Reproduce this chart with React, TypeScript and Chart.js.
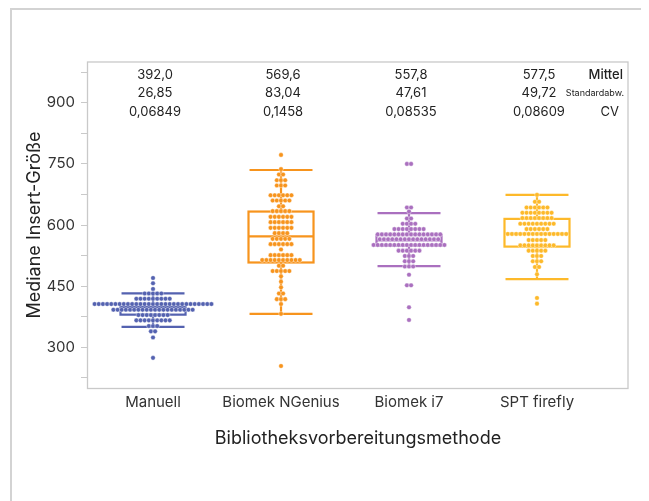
import React, { useEffect, useRef } from "react";
import { Chart, registerables } from "chart.js";
Chart.register(...registerables);

const categories = ["Manuell", "Biomek NGenius", "Biomek i7", "SPT firefly"];
const colors = ["#5462b0", "#f7941d", "#aa70bf", "#fdb92a"];

const manuell = [
  470, 457, 443,
  432, 432, 432, 432, 432,
  419, 419, 419, 419, 419, 419, 419, 419, 419,
  406, 406, 406, 406, 406, 406, 406, 406, 406, 406, 406, 406, 406, 406, 406,
  406, 406, 406, 406, 406, 406, 406, 406, 406, 406, 406, 406, 406, 406,
  392, 392, 392, 392, 392, 392, 392, 392, 392, 392, 392, 392, 392, 392, 392,
  392, 392, 392, 392, 392,
  379, 379, 379, 379, 379, 379, 379, 379,
  366, 366, 366, 366, 366, 366, 366, 366, 366,
  352, 352, 352,
  339, 339,
  324, 274,
];

const ngenius = [
  772, 737, 724, 724, 710, 710, 710, 697, 697, 697,
  673, 673, 673, 673, 673, 673,
  660, 660, 660, 660, 660,
  646, 646,
  634, 634, 634, 634, 634,
  620, 620, 620, 620, 620, 620,
  607, 607, 607, 607, 607, 607,
  593, 593, 593, 593, 593, 593,
  580, 580, 580, 580,
  566, 566, 566, 566, 566,
  553, 553, 553, 553, 553, 553,
  540,
  526, 526, 526, 526, 526, 526,
  514, 514, 514, 514, 514, 514, 514, 514, 514, 514,
  500, 500,
  487, 487, 487, 487, 487,
  474, 461, 447, 432, 432, 418, 418, 418, 406, 382, 254,
];

const biomekI7 = [
  750, 750,
  643, 643, 633,
  616, 616,
  603, 603, 603, 603,
  590, 590, 590, 590, 590, 590, 590, 590,
  577, 577, 577, 577, 577, 577, 577, 577, 577, 577, 577, 577, 577, 577, 577, 577,
  565, 565, 565, 565, 565, 565, 565, 565, 565, 565, 565, 565, 565, 565, 565,
  551, 551, 551, 551, 551, 551, 551, 551, 551, 551, 551, 551, 551, 551, 551,
  551, 551, 551,
  537, 537, 537, 537, 537, 537,
  524, 524, 524,
  511, 511, 511,
  498, 498, 498,
  478, 452, 452, 398, 367,
];

const sptFirefly = [
  674,
  657, 657,
  643, 643, 643, 643, 643, 643,
  630, 630, 630, 630, 630, 630, 630, 630,
  617, 617, 617, 617, 617, 617, 617, 617,
  603, 603, 603, 603, 603, 603, 603, 603, 603,
  590, 590, 590, 590, 590, 590,
  578, 578, 578, 578, 578, 578, 578, 578, 578, 578, 578, 578, 578, 578, 578,
  563, 563, 563, 563, 563,
  550, 550, 550, 550, 550, 550, 550, 550, 550,
  537, 537, 537, 537, 537,
  524, 524, 524,
  511, 511, 511,
  497, 497,
  479, 421, 407,
];

const groups = [manuell, ngenius, biomekI7, sptFirefly];

const boxHigh = [432, 735, 629, 674];
const boxQ3 = [399, 633, 575, 615];
const boxMedian = [392, 572, 562, 579];
const boxQ1 = [380, 508, 549, 547];
const boxLow = [350, 382, 499, 467];

const meanLabels = ["392,0", "569,6", "557,8", "577,5"];
const sdLabels = ["26,85", "83,04", "47,61", "49,72"];
const cvLabels = ["0,06849", "0,1458", "0,08535", "0,08609"];

const yTickValues = [225, 300, 375, 450, 525, 600, 675, 750, 825, 900, 975];
const yLabelValues = [300, 450, 600, 750, 900];

const FONT = "Inter, 'Noto Sans', sans-serif";
const DOT_STEP = 0.0326;
const BOX_HALF = 0.254;
const CAP_HALF = 0.246;

function swarm(values: number[], center: number) {
  const counts = new Map<number, number>();
  values.forEach((v) => counts.set(v, (counts.get(v) || 0) + 1));
  const seen = new Map<number, number>();
  return values.map((v) => {
    const n = counts.get(v)!;
    const j = seen.get(v) || 0;
    seen.set(v, j + 1);
    return { x: center + (j - (n - 1) / 2) * DOT_STEP, y: v };
  });
}

const boxPlugin = {
  id: "boxes",
  beforeDatasetsDraw(chart: any) {
    const { ctx, scales } = chart;
    const xs = scales.x;
    const ys = scales.y;
    ctx.save();
    for (let i = 0; i < categories.length; i++) {
      const c = i + 1;
      ctx.strokeStyle = colors[i];
      ctx.lineWidth = 2.2;
      const l = xs.getPixelForValue(c - BOX_HALF);
      const r = xs.getPixelForValue(c + BOX_HALF);
      const cl = xs.getPixelForValue(c - CAP_HALF);
      const cr = xs.getPixelForValue(c + CAP_HALF);
      const cx = xs.getPixelForValue(c);
      const q3 = ys.getPixelForValue(boxQ3[i]);
      const q1 = ys.getPixelForValue(boxQ1[i]);
      const md = ys.getPixelForValue(boxMedian[i]);
      const hi = ys.getPixelForValue(boxHigh[i]);
      const lo = ys.getPixelForValue(boxLow[i]);
      ctx.strokeRect(l, q3, r - l, q1 - q3);
      ctx.beginPath();
      ctx.moveTo(l, md);
      ctx.lineTo(r, md);
      ctx.moveTo(cx, q3);
      ctx.lineTo(cx, hi);
      ctx.moveTo(cx, q1);
      ctx.lineTo(cx, lo);
      ctx.moveTo(cl, hi);
      ctx.lineTo(cr, hi);
      ctx.moveTo(cl, lo);
      ctx.lineTo(cr, lo);
      ctx.stroke();
    }
    ctx.restore();
  },
  afterDraw(chart: any) {
    const { ctx, chartArea, scales } = chart;
    const xs = scales.x;
    ctx.save();
    ctx.strokeStyle = "#c9c9c9";
    ctx.lineWidth = 1.3;
    ctx.strokeRect(chartArea.left - 0.5, chartArea.top, chartArea.right - chartArea.left + 0.5, chartArea.bottom - chartArea.top + 0.5);
    ctx.fillStyle = "#222";
    ctx.textBaseline = "middle";
    ctx.textAlign = "center";
    ctx.font = `13px ${FONT}`;
    const rows = [meanLabels, sdLabels, cvLabels];
    const offs = [13, 31, 50];
    for (let i = 0; i < categories.length; i++) {
      const px = xs.getPixelForValue(i + 1) + 2;
      rows.forEach((row, k) => ctx.fillText(row[i], px, chartArea.top + offs[k]));
    }
    ctx.textAlign = "right";
    ctx.font = `500 13px ${FONT}`;
    ctx.fillText("Mittel", chartArea.right - 5, chartArea.top + offs[0]);
    ctx.font = `9px ${FONT}`;
    ctx.fillText("Standardabw.", chartArea.right - 4, chartArea.top + offs[1]);
    ctx.font = `13px ${FONT}`;
    ctx.fillText("CV", chartArea.right - 9, chartArea.top + offs[2]);
    ctx.restore();
  },
};

export default function App() {
  const ref = useRef<HTMLCanvasElement>(null);
  useEffect(() => {
    if (!ref.current) return;
    const chart = new Chart(ref.current, {
      type: "scatter",
      data: {
        datasets: groups.map((g, i) => ({
          label: categories[i],
          data: swarm(g, i + 1),
          backgroundColor: colors[i],
          borderColor: "rgba(255,255,255,0.8)",
          borderWidth: 0.5,
          pointRadius: 2.3,
        })),
      },
      options: {
        animation: false,
        responsive: false,
        devicePixelRatio: 1,
        layout: { padding: { left: 0, top: 52, right: 14, bottom: 0 } },
        plugins: { legend: { display: false }, tooltip: { enabled: false } },
        scales: {
          x: {
            type: "linear",
            min: 0.492,
            max: 4.711,
            grid: { display: false, drawTicks: false },
            border: { display: false },
            afterBuildTicks: (s: any) => {
              s.ticks = categories.map((_, i) => ({ value: i + 1 }));
            },
            afterFit: (s: any) => {
              s.height = 112;
            },
            ticks: {
              padding: 5,
              color: "#333",
              font: { family: FONT, size: 15 },
              callback: (v: any) => categories[Number(v) - 1] ?? "",
            },
            title: {
              display: true,
              text: "Bibliotheksvorbereitungsmethode",
              color: "#222",
              font: { family: FONT, size: 18 },
              padding: { top: 0, bottom: 51 },
            },
          },
          y: {
            type: "linear",
            min: 200,
            max: 1000,
            grid: { display: true, drawOnChartArea: false, drawTicks: true, tickLength: 7, color: "#c9c9c9" },
            border: { display: false },
            afterBuildTicks: (s: any) => {
              s.ticks = yTickValues.map((v) => ({ value: v }));
            },
            afterFit: (s: any) => {
              s.width = 76;
            },
            ticks: {
              padding: 6,
              color: "#333",
              font: { family: FONT, size: 15 },
              callback: (v: any) => (yLabelValues.includes(Number(v)) ? String(v) : ""),
            },
            title: {
              display: true,
              text: "Mediane Insert-Größe",
              color: "#222",
              font: { family: FONT, size: 18 },
              padding: { top: 12, bottom: 0 },
            },
          },
        },
      },
      plugins: [boxPlugin],
    });
    return () => chart.destroy();
  }, []);
  return (
    <div style={{ marginLeft: 2, width: 630, height: 500, border: "2px solid #d3d3d3", background: "#fff" }}>
      <canvas ref={ref} width={630} height={490} style={{ display: "block", width: 630, height: 490 }} />
    </div>
  );
}
